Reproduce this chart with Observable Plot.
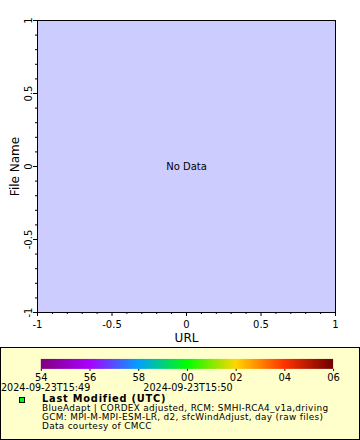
<!DOCTYPE html>
<html><head><meta charset="utf-8">
<script src="https://cdn.jsdelivr.net/npm/d3@7"></script>
<script src="https://cdn.jsdelivr.net/npm/@observablehq/plot@0.6"></script>
<style>
body{margin:0;background:#fff;font-family:"DejaVu Sans",sans-serif;color:#000;}
#wrap{width:360px;}
#legend{position:relative;width:360px;height:93px;box-sizing:border-box;border:1px solid #000;background:#ffffcc;overflow:hidden;}
#legend .cb{position:absolute;left:-1px;top:0;}
#legend .date{position:absolute;top:34.5px;font-size:9.6px;line-height:10px;white-space:nowrap;}
#legend .marker{position:absolute;left:18px;top:49px;width:6px;height:6px;box-sizing:border-box;border:1px solid #000;background:#00ff00;}
#legend .txt{position:absolute;left:41px;top:45.8px;font-size:8.9px;line-height:9px;white-space:nowrap;letter-spacing:0.33px;}
#legend .txt b{font-weight:bold;font-size:9.8px;line-height:9px;letter-spacing:0.8px;}
</style></head><body><div id="wrap"></div>
<script>
const xDomain = [-1, 1];
const yDomain = [-1, 1];
const majorTicks = [-1, -0.5, 0, 0.5, 1];
const minorTicks = [-0.9, -0.8, -0.7, -0.6, -0.4, -0.3, -0.2, -0.1, 0.1, 0.2, 0.3, 0.4, 0.6, 0.7, 0.8, 0.9];
const xLabel = "URL";
const yLabel = "File Name";
const noDataText = ["No Data"];
const cbarStops = [54, 56, 58, 60, 62, 64, 66];
const cbarColors = ["#800080", "#aa00ff", "#00a0ff", "#00ff00", "#ffd700", "#ff3300", "#700000"];
const cbarTicks = [54, 56, 58, 60, 62, 64, 66];
const dateTicks = [54, 60];
const dateLabels = ["2024-09-23T15:49", "2024-09-23T15:50"];
const legendTitle = "Last Modified (UTC)";
const legendLines = [
  "BlueAdapt | CORDEX adjusted, RCM: SMHI-RCA4_v1a,driving",
  "GCM: MPI-M-MPI-ESM-LR, d2, sfcWindAdjust, day (raw files)",
  "Data courtesy of CMCC"
];

const fmt = d => String(d);
const W = 360, cbLeft = 41, cbRight = 25;

const chart = Plot.plot({
  width: W, height: 347,
  marginTop: 20, marginRight: 25, marginBottom: 35, marginLeft: 37,
  style: {fontFamily: "DejaVu Sans", fontSize: "10px", background: "white", color: "black", overflow: "visible"},
  x: {domain: xDomain},
  y: {domain: yDomain},
  marks: [
    Plot.frame({fill: "#ccccff"}),
    Plot.axisX({ticks: minorTicks, tickSize: 2, tickFormat: () => "", label: null}),
    Plot.axisX({ticks: majorTicks, tickSize: 4, tickPadding: 4, tickFormat: fmt, label: null}),
    Plot.axisY({ticks: minorTicks, tickSize: 2, tickFormat: () => "", label: null}),
    Plot.axisY({ticks: majorTicks, tickSize: 4, tickPadding: 2, tickRotate: -90, tickFormat: fmt, label: null}),
    Plot.frame({stroke: "black"}),
    Plot.text(noDataText, {frameAnchor: "middle", text: d => d, fontSize: 10}),
    Plot.text([xLabel], {frameAnchor: "bottom", text: d => d, lineAnchor: "top", dy: 21, fontSize: 12}),
    Plot.text([yLabel], {frameAnchor: "left", text: d => d, rotate: -90, lineAnchor: "bottom", textAnchor: "middle", dx: -19, fontSize: 12})
  ]
});

const wrap = document.getElementById("wrap");
wrap.appendChild(chart);

const box = document.createElement("div");
box.id = "legend";
wrap.appendChild(box);

const cb = Plot.legend({
  color: {type: "linear", domain: cbarStops, range: cbarColors, interpolate: "rgb"},
  width: W, height: 11 + 10 + 16,
  marginLeft: cbLeft, marginRight: cbRight, marginTop: 11, marginBottom: 16,
  ticks: cbarTicks, tickSize: 2,
  tickFormat: d => String(d % 60).padStart(2, "0"),
  style: {fontFamily: "DejaVu Sans", fontSize: "10px", background: "transparent", color: "black"}
});
cb.classList.add("cb");
d3.select(cb).selectAll(".tick line").attr("y1", 0);
box.appendChild(cb);

const xs = d3.scaleLinear([cbarStops[0], cbarStops[cbarStops.length - 1]], [cbLeft, W - cbRight]);
dateTicks.forEach((t, i) => {
  const s = document.createElement("span");
  s.className = "date";
  s.textContent = dateLabels[i];
  box.appendChild(s);
  const w = s.getBoundingClientRect().width;
  s.style.left = Math.max(0, xs(t) - 1 - w / 2) + "px";
});

const mk = document.createElement("div");
mk.className = "marker";
box.appendChild(mk);

const txt = document.createElement("div");
txt.className = "txt";
const b = document.createElement("b");
b.textContent = legendTitle;
txt.appendChild(b);
legendLines.forEach(l => {
  txt.appendChild(document.createElement("br"));
  txt.appendChild(document.createTextNode(l));
});
box.appendChild(txt);
</script>
</body></html>
